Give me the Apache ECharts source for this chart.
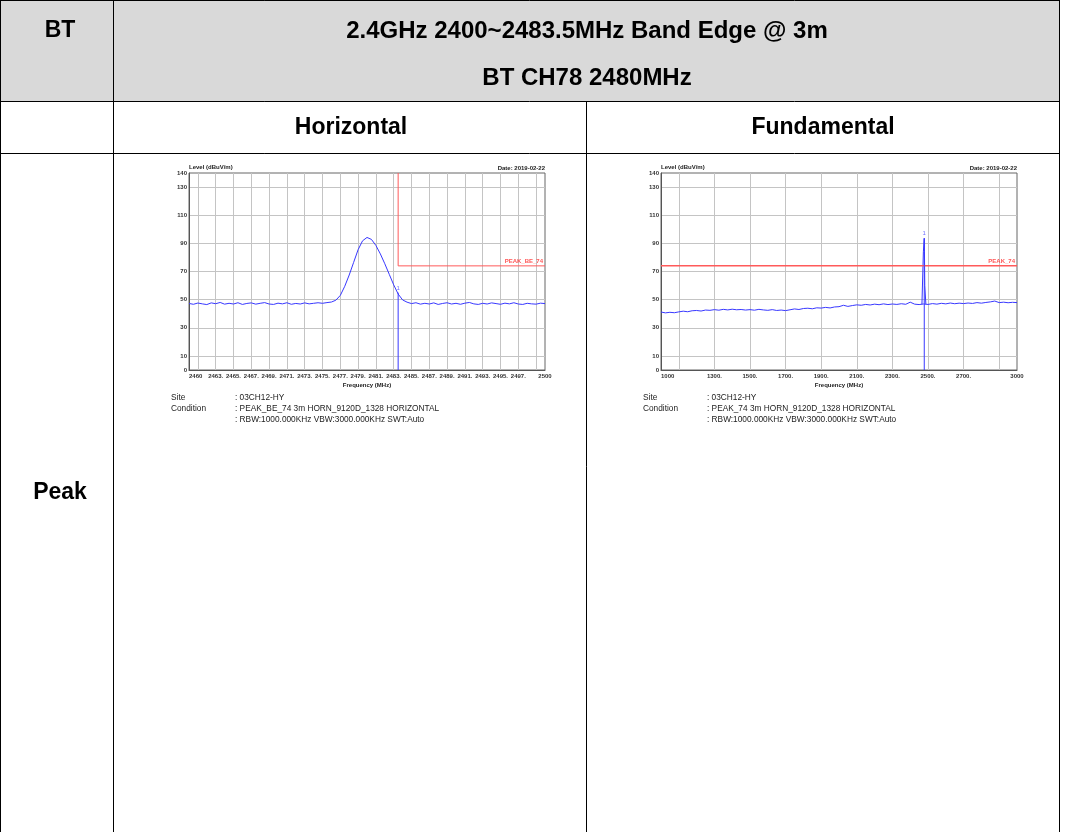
<!DOCTYPE html>
<html><head><meta charset="utf-8">
<script src="https://cdn.jsdelivr.net/npm/echarts@6/dist/echarts.min.js"></script>
<style>html,body{margin:0;padding:0;background:#fff}#c{width:1065px;height:832px}</style>
</head><body><div id="c"></div>
<script>
// ---------- data ----------
// Horizontal band-edge sweep: 2460..2500 MHz, one reading every 0.5 MHz
const H_START = 2460, H_STEP = 0.5;
const H_LEVEL = [
  47.3,46.7,47.6,47.0,46.5,47.7,47.1,48.0,46.8,47.4,
  46.9,47.8,46.6,47.3,47.7,46.8,47.4,47.9,46.9,46.6,
  47.5,47.0,47.8,46.7,47.3,46.9,47.7,47.0,47.4,47.8,
  47.4,47.9,48.3,49.6,53.0,59.5,67.5,76.5,85.5,91.8,
  94.2,92.8,88.5,82.5,75.5,68.0,60.5,54.0,49.8,48.2,
  47.2,47.8,46.8,47.4,46.9,47.7,46.6,47.3,47.8,46.9,
  47.4,46.7,47.5,48.0,47.0,46.6,47.4,46.9,47.7,47.2,
  46.7,47.5,47.0,47.8,46.9,46.6,47.4,47.0,46.8,47.5,
  47.2
];
const H_LIMIT_FREQ = [2483.5, 2483.5, 2500];
const H_LIMIT_LEVEL = [140, 74, 74];
const H_MARKER = [2483.5, 55];
const H_XTICKS = [2460,2463,2465,2467,2469,2471,2473,2475,2477,2479,2481,2483,2485,2487,2489,2491,2493,2495,2497,2500];

// Fundamental sweep: 1000..3000 MHz, one reading every 25 MHz
const F_START = 1000, F_STEP = 25;
const F_LEVEL = [
  41.2,40.6,41.0,40.7,41.3,41.8,41.4,42.1,42.3,41.9,
  42.6,42.4,42.9,42.5,43.1,42.7,43.2,42.8,43.0,42.6,
  42.9,42.5,43.1,42.7,42.4,42.9,42.3,42.6,42.2,42.8,
  43.4,43.0,43.7,43.9,43.5,44.2,44.0,44.5,44.1,44.8,
  45.0,46.0,45.2,45.8,46.3,46.0,46.6,46.2,46.8,46.4,
  47.0,46.5,46.9,46.6,47.1,46.7,48.2,46.8,46.5,46.9,
  46.6,47.2,46.8,47.4,47.0,47.6,47.1,47.5,47.2,47.6,
  47.3,47.9,47.5,48.0,48.4,49.0,47.9,48.2,47.8,48.1,
  47.9
];
const SPIKE_FREQ = [2466, 2474, 2476, 2478, 2479, 2480, 2482, 2488];
const SPIKE_LEVEL = [46.8, 84.0, 84.5, 84.0, 93.6, 84.0, 60.0, 46.8];
const F_LIMIT_FREQ = [1000, 3000];
const F_LIMIT_LEVEL = [74, 74];
const F_MARKER = [2479, 93.6];
const F_XTICKS = [1000,1300,1500,1700,1900,2100,2300,2500,2700,3000];

const Y_TICKS = [0,10,30,50,70,90,110,130,140];

// ---------- helpers ----------
const zip = (xs, ys) => xs.map((x, i) => [x, ys[i]]);
const sweep = (start, step, ys) => ys.map((y, i) => [start + i * step, y]);

const BLUE = '#3838ff', RED = '#ff5a5a', GRID = '#c4c4c4', AX = '#555';
const SMALL = { fontFamily: 'Liberation Sans', fontSize: 6, fontWeight: 'bold', color: '#333' };

function xAxis(gi, min, max, interval, ticks) {
  return {
    type: 'value', gridIndex: gi, min, max, interval,
    name: 'Frequency (MHz)', nameLocation: 'middle', nameGap: 12,
    nameTextStyle: Object.assign({}, SMALL, { color: '#222' }),
    axisLine: { show: true, lineStyle: { color: AX, width: 1 } },
    axisTick: { show: false },
    splitLine: { show: false },
    minorTick: { show: false, splitNumber: 2 },
    minorSplitLine: { show: true, lineStyle: { color: GRID, width: 1 } },
    axisLabel: Object.assign({}, SMALL, {
      customValues: ticks, margin: 3, alignMinLabel: 'left',
      formatter: v => (v === min || v === max) ? String(v) : v + '.'
    })
  };
}
function yAxis(gi) {
  return {
    type: 'value', gridIndex: gi, min: 0, max: 140, interval: 20,
    name: 'Level (dBuV/m)', nameLocation: 'end', nameGap: 2,
    nameTextStyle: Object.assign({}, SMALL, { align: 'left', verticalAlign: 'bottom', color: '#222' }),
    axisLine: { show: true, lineStyle: { color: AX, width: 1 } },
    axisTick: { show: false },
    splitLine: { show: false },
    minorTick: { show: false, splitNumber: 2 },
    minorSplitLine: { show: true, lineStyle: { color: GRID, width: 1 } },
    axisLabel: Object.assign({}, SMALL, { customValues: Y_TICKS, margin: 2 })
  };
}
function lineSeries(gi, data, color, z, width) {
  return { type: 'line', xAxisIndex: gi, yAxisIndex: gi, data, showSymbol: false, symbol: 'none',
    lineStyle: { color, width: width || 1 }, z, animation: false, silent: true };
}
function labelPoint(gi, pt, text, color, opts) {
  return { type: 'scatter', xAxisIndex: gi, yAxisIndex: gi, data: [pt], symbol: 'circle', symbolSize: 1,
    itemStyle: { color: 'transparent' }, z: 6, animation: false, silent: true,
    label: Object.assign({ show: true, formatter: text, position: 'top', distance: 1,
      fontFamily: 'Liberation Sans', fontSize: 6, fontWeight: 'bold', color }, opts || {}) };
}

// ---------- table (graphic) ----------
const TXT = { fontFamily: 'Liberation Sans', fontSize: 23, fontWeight: 'bold', fill: '#000', textAlign: 'center', textVerticalAlign: 'middle' };
const HEAD = Object.assign({}, TXT, { fontSize: 24 });
const ln = (x1, y1, x2, y2) => ({ type: 'line', shape: { x1, y1, x2, y2 }, style: { stroke: '#000', lineWidth: 1 }, silent: true });
const txt = (x, y, text, st) => ({ type: 'text', x, y, style: Object.assign({ text }, st), silent: true });
const SITE = { fontFamily: 'Liberation Sans', fontSize: 8.3, fill: '#222', textVerticalAlign: 'middle' };
const DATE = { fontFamily: 'Liberation Sans', fontSize: 6, fontWeight: 'bold', fill: '#222', textAlign: 'right', textVerticalAlign: 'middle' };

const graphic = [
  { type: 'rect', shape: { x: 0, y: 0, width: 1059, height: 101 }, style: { fill: '#d9d9d9' }, silent: true, z: -1 },
  ln(0, 0.5, 1059.5, 0.5), ln(0, 101.5, 1059.5, 101.5), ln(0, 153.5, 1059.5, 153.5),
  ln(0.5, 0, 0.5, 832), ln(113.5, 0, 113.5, 832), ln(586.5, 101.5, 586.5, 832), ln(1059.5, 0, 1059.5, 832),
  txt(60, 31, 'BT', TXT),
  txt(587, 31, '2.4GHz 2400~2483.5MHz Band Edge @ 3m', HEAD),
  txt(587, 78, 'BT CH78 2480MHz', HEAD),
  txt(351, 128, 'Horizontal', TXT),
  txt(823, 128, 'Fundamental', TXT),
  txt(60, 493, 'Peak', TXT),
  txt(545, 168, 'Date: 2019-02-22', DATE),
  txt(1017, 168, 'Date: 2019-02-22', DATE),
  txt(171, 398, 'Site', SITE), txt(171, 409, 'Condition', SITE),
  txt(235, 398, ': 03CH12-HY', SITE),
  txt(235, 409, ': PEAK_BE_74 3m HORN_9120D_1328 HORIZONTAL', SITE),
  txt(235, 420, ': RBW:1000.000KHz VBW:3000.000KHz SWT:Auto', SITE),
  txt(643, 398, 'Site', SITE), txt(643, 409, 'Condition', SITE),
  txt(707, 398, ': 03CH12-HY', SITE),
  txt(707, 409, ': PEAK_74 3m HORN_9120D_1328 HORIZONTAL', SITE),
  txt(707, 420, ': RBW:1000.000KHz VBW:3000.000KHz SWT:Auto', SITE)
];

const chart = echarts.init(document.getElementById('c'), null, { renderer: 'canvas' });
chart.setOption({
  animation: false,
  backgroundColor: '#fff',
  graphic,
  grid: [
    { left: 189, top: 173, width: 356, height: 197, show: true, borderColor: '#666', borderWidth: 1 },
    { left: 661, top: 173, width: 356, height: 197, show: true, borderColor: '#666', borderWidth: 1 }
  ],
  xAxis: [ xAxis(0, 2460, 2500, 2, H_XTICKS), xAxis(1, 1000, 3000, 200, F_XTICKS) ],
  yAxis: [ yAxis(0), yAxis(1) ],
  series: [
    lineSeries(0, sweep(H_START, H_STEP, H_LEVEL), BLUE, 3),
    lineSeries(0, zip(H_LIMIT_FREQ, H_LIMIT_LEVEL), RED, 4),
    lineSeries(0, [H_MARKER, [H_MARKER[0], 0]], BLUE, 5),
    labelPoint(0, H_MARKER, '1', '#4a4aff', { fontWeight: 'normal' }),
    labelPoint(0, [H_LIMIT_FREQ[2], H_LIMIT_LEVEL[2]], 'PEAK_BE_74', '#ff2a2a', { align: 'right', offset: [-2, 0] }),

    lineSeries(1, sweep(F_START, F_STEP, F_LEVEL), BLUE, 3),
    lineSeries(1, zip(SPIKE_FREQ, SPIKE_LEVEL), BLUE, 3),
    lineSeries(1, zip(F_LIMIT_FREQ, F_LIMIT_LEVEL), RED, 4, 1.5),
    lineSeries(1, [F_MARKER, [F_MARKER[0], 0]], BLUE, 5),
    labelPoint(1, F_MARKER, '1', '#4a4aff', { fontWeight: 'normal' }),
    labelPoint(1, [F_LIMIT_FREQ[1], F_LIMIT_LEVEL[1]], 'PEAK_74', '#ff2a2a', { align: 'right', offset: [-2, 0] })
  ]
});
</script>
</body></html>
